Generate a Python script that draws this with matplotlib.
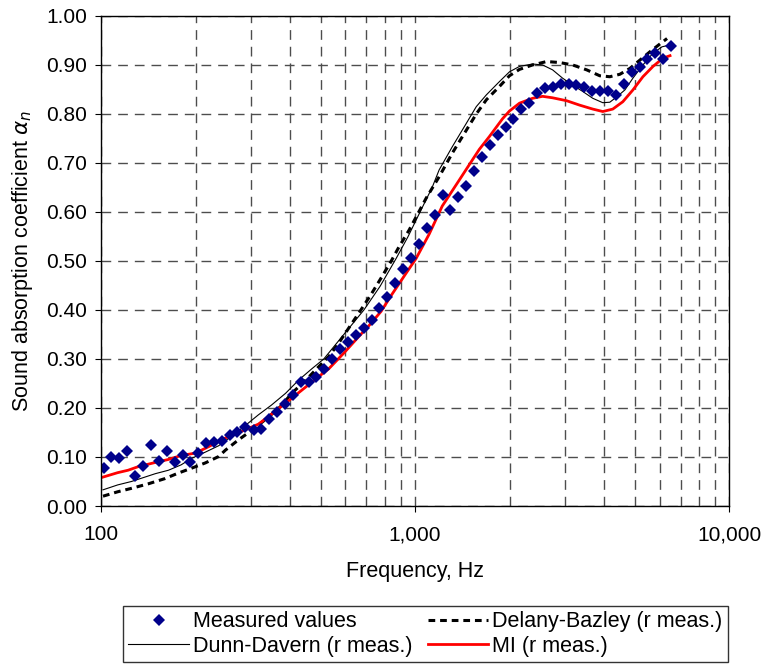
import matplotlib
matplotlib.use("Agg")
import matplotlib.pyplot as plt
from matplotlib.ticker import FixedLocator, FuncFormatter, NullFormatter

plt.rcParams["font.family"] = ["Liberation Sans", "DejaVu Sans"]

# valores medidos (1/12 de octava)
freq_medido = [102, 108, 114, 121, 128, 136, 144, 153, 162, 172, 182, 192,
               204, 216, 229, 243, 257, 272, 288, 306, 324, 343, 364, 385,
               408, 432, 458, 485, 514, 545, 577, 611, 648, 686, 727, 770,
               816, 865, 916, 970, 1028, 1089, 1154, 1223, 1295, 1372, 1454, 1541,
               1632, 1729, 1832, 1941, 2056, 2179, 2308, 2446, 2591, 2745, 2908, 3081,
               3264, 3459, 3664, 3882, 4113, 4358, 4617, 4891, 5182, 5490, 5817, 6163,
               6529]
alfa_medido = [0.078, 0.100, 0.098, 0.112, 0.061, 0.082, 0.125, 0.092, 0.112, 0.090, 0.104, 0.090,
               0.108, 0.129, 0.131, 0.133, 0.145, 0.150, 0.161, 0.156, 0.157, 0.177, 0.191, 0.208,
               0.227, 0.254, 0.254, 0.264, 0.280, 0.300, 0.320, 0.334, 0.348, 0.363, 0.380, 0.404,
               0.427, 0.456, 0.484, 0.507, 0.535, 0.567, 0.594, 0.635, 0.604, 0.631, 0.653, 0.684,
               0.713, 0.737, 0.757, 0.773, 0.790, 0.810, 0.822, 0.842, 0.852, 0.856, 0.862, 0.862,
               0.859, 0.856, 0.847, 0.846, 0.846, 0.839, 0.862, 0.886, 0.895, 0.912, 0.924, 0.912,
               0.939]

# Delany-Bazley
freq_db = [101.5, 113, 125, 141, 160, 176, 194, 215, 237, 249, 274, 291, 317, 342, 373, 405,
           449, 493, 531, 572, 625, 672, 723, 779, 838, 889, 957, 1084, 1193, 1313, 1456, 1566,
           1686, 1855, 1997, 2149, 2365, 2621, 2885, 3174, 3518, 3871, 4167, 4485, 4828, 5197,
           5594, 6020, 6340]
alfa_db = [0.020, 0.029, 0.036, 0.045, 0.056, 0.067, 0.077, 0.088, 0.101, 0.114, 0.135, 0.147,
           0.165, 0.182, 0.203, 0.230, 0.257, 0.284, 0.305, 0.333, 0.370, 0.400, 0.431, 0.465,
           0.499, 0.529, 0.563, 0.628, 0.672, 0.720, 0.767, 0.800, 0.829, 0.856, 0.878, 0.891,
           0.900, 0.907, 0.905, 0.900, 0.890, 0.878, 0.876, 0.881, 0.893, 0.910, 0.927, 0.943,
           0.954]

# Dunn-Davern
freq_dd = [101.5, 113, 125, 138, 149, 164, 180, 194, 215, 237, 260, 289, 317, 349, 387, 426,
           469, 512, 593, 687, 773, 870, 950, 1037, 1133, 1193, 1313, 1456, 1566, 1686, 1855,
           1997, 2149, 2365, 2546, 2740, 2949, 3174, 3416, 3678, 3958, 4167, 4387, 4653, 4935,
           5311, 5718, 6108, 6479]
alfa_dd = [0.033, 0.043, 0.050, 0.059, 0.066, 0.073, 0.084, 0.097, 0.110, 0.123, 0.142, 0.165,
           0.186, 0.206, 0.230, 0.257, 0.280, 0.300, 0.350, 0.400, 0.448, 0.505, 0.550, 0.600,
           0.650, 0.686, 0.733, 0.781, 0.815, 0.839, 0.866, 0.886, 0.897, 0.902, 0.900, 0.890,
           0.873, 0.859, 0.846, 0.832, 0.823, 0.824, 0.835, 0.849, 0.873, 0.900, 0.924, 0.937,
           0.941]

# MI
freq_mi = [101.5, 113, 122, 131, 147, 164, 180, 200, 220, 237, 255, 289, 317, 342, 368, 405,
           449, 493, 531, 593, 662, 713, 779, 844, 936, 1007, 1109, 1220, 1382, 1521, 1602, 1724,
           1897, 1997, 2149, 2365, 2546, 2740, 3038, 3342, 3678, 3958, 4259, 4584, 4935, 5311,
           5718, 6154, 6479]
alfa_mi = [0.059, 0.068, 0.073, 0.080, 0.088, 0.095, 0.103, 0.108, 0.121, 0.132, 0.142, 0.156,
           0.167, 0.183, 0.199, 0.220, 0.243, 0.264, 0.280, 0.312, 0.346, 0.368, 0.397, 0.432,
           0.475, 0.505, 0.555, 0.612, 0.665, 0.706, 0.728, 0.754, 0.790, 0.806, 0.822, 0.832,
           0.836, 0.833, 0.827, 0.818, 0.810, 0.805, 0.810, 0.825, 0.849, 0.876, 0.897, 0.914,
           0.919]

fig = plt.figure(figsize=(7.62, 6.71), dpi=100)
ax = fig.add_axes([0.1325, 0.2459, 0.8245, 0.7303])

ax.set_xscale("log")
ax.set_xlim(100, 10000)
ax.set_ylim(0, 1.0)

estilo_rejilla = dict(color="#4d4d4d", linestyle=(0, (7, 5)), linewidth=1.0)
ax.yaxis.set_major_locator(FixedLocator([i / 10 for i in range(11)]))
ax.yaxis.set_major_formatter(FuncFormatter(lambda v, p: f"{v:.2f}"))
ax.xaxis.set_major_locator(FixedLocator([100, 1000, 10000]))
ax.xaxis.set_major_formatter(FuncFormatter(lambda v, p: f"{int(round(v)):,}"))
menores = [m * d for d in (100, 1000) for m in range(2, 10)]
ax.xaxis.set_minor_locator(FixedLocator(menores))
ax.xaxis.set_minor_formatter(NullFormatter())
ax.grid(True, which="both", axis="x", **estilo_rejilla)
ax.grid(True, which="major", axis="y", **estilo_rejilla)
ax.set_axisbelow(True)

ax.tick_params(axis="both", which="major", direction="out", length=4, labelsize=15, color="black")
ax.tick_params(axis="x", which="minor", length=0)
ax.tick_params(axis="x", pad=10)
ax.tick_params(axis="y", pad=6)
for s in ax.spines.values():
    s.set_linewidth(1.0)
    s.set_color("black")

l_db, = ax.plot(freq_db, alfa_db, color="black", linewidth=2.2, linestyle=(0, (2.2, 1.6)))
l_dd, = ax.plot(freq_dd, alfa_dd, color="black", linewidth=0.8)
l_mi, = ax.plot(freq_mi, alfa_mi, color="#ff0000", linewidth=2.0)
l_med, = ax.plot(freq_medido, alfa_medido, linestyle="none", marker="D", markersize=6,
                 color="#00008b", markeredgewidth=0)

ax.set_xlabel("Frequency, Hz", fontsize=15.5, labelpad=12)
ax.set_ylabel(r"Sound absorption coefficient $\alpha_n$", fontsize=15.5, labelpad=8)

leg = fig.legend([l_med, l_dd, l_db, l_mi],
                 ["Measured values", "Dunn-Davern (r meas.)",
                  "Delany-Bazley (r meas.)", "MI (r meas.)"],
                 loc="upper left", bbox_to_anchor=(123 / 762, 1 - 606 / 671),
                 ncol=2, fontsize=15.5, frameon=True, fancybox=False,
                 borderpad=0.25, borderaxespad=0, handlelength=2.8, handletextpad=0.2,
                 labelspacing=0.15, columnspacing=0.7)
leg.get_frame().set_edgecolor("black")
leg.get_frame().set_linewidth(1.0)

fig.savefig("out.png", dpi=100)
